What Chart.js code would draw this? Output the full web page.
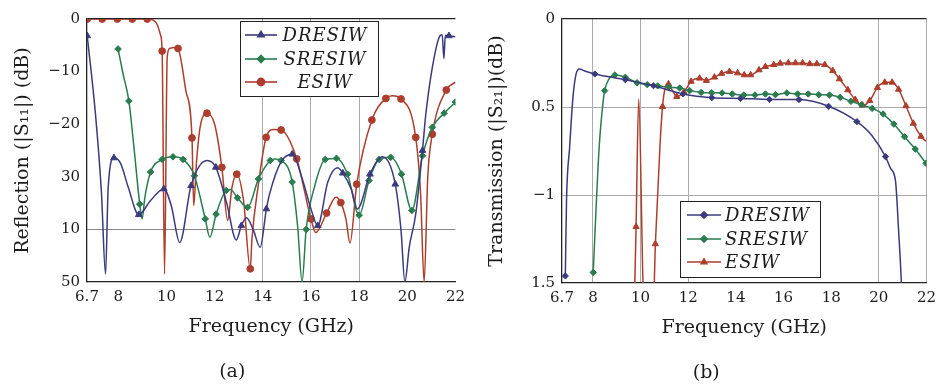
<!DOCTYPE html>
<html>
<head>
<meta charset="utf-8">
<script src="https://cdn.jsdelivr.net/npm/chart.js@4.4.1/dist/chart.umd.min.js"></script>
<style>
  body { margin: 0; background: #fff; }
  #wrap { position: relative; width: 942px; height: 385px; }
  canvas { position: absolute; top: 0; }
</style>
</head>
<body>
<div id="wrap">
  <canvas id="left" width="471" height="385" style="left:0"></canvas>
  <canvas id="right" width="471" height="385" style="left:471px"></canvas>
</div>
<script>
// axis ticks (labels copied as printed in the figure)
const freqTicks = [6.7, 8, 10, 12, 14, 16, 18, 20, 22];
const s11Ticks = [0, -10, -20, -30, -40, -50];
const s11TickLabels = ['0', '\u221210', '\u221220', '30', '10', '50'];
const s21Ticks = [0, -0.5, -1, -1.5];
const s21TickLabels = ['0', '0.5', '\u22121', '1.5'];

// (a) reflection |S11| in dB
const s11DresiwF  = [6.71, 7.05, 7.3, 7.47, 7.58, 7.82, 8.1, 8.4, 8.85, 9.34, 9.89, 10.2, 10.55, 11.02, 11.68, 12.05, 12.5, 12.9, 13.11, 13.32, 13.6, 13.89, 14.15, 14.28, 14.75, 15.22, 15.66, 16.0, 16.28, 16.7, 17.11, 17.32, 17.67, 17.93, 18.45, 18.97, 19.5, 19.74, 19.9, 20.08, 20.35, 20.63, 20.77, 21.04, 21.32, 21.45, 21.52, 21.58, 21.73, 22];
const s11DresiwDb = [-3.2, -18, -33, -48.5, -32, -26.4, -27.5, -31.8, -37.2, -34.5, -32.3, -35.5, -42.5, -31.7, -26.9, -28.2, -35, -42, -39.3, -37.8, -40, -43.4, -36.1, -33.3, -27.2, -25.7, -30.7, -36.1, -39.3, -31, -28.3, -29.3, -32.3, -36.1, -29.5, -26.2, -31.4, -40.2, -50, -43.4, -37.1, -25, -18.1, -9.2, -3.5, -3.0, -7.5, -3.1, -3.2, -3.4];

const s11SresiwF  = [7.99, 8.2, 8.44, 8.65, 8.89, 8.99, 9.1, 9.34, 9.82, 10.27, 10.69, 11.16, 11.61, 11.8, 12.06, 12.48, 12.65, 12.95, 13.37, 13.82, 14.31, 14.5, 14.76, 15.22, 15.45, 15.63, 15.8, 16.14, 16.59, 17.06, 17.52, 18.0, 18.41, 18.83, 19.31, 19.76, 20.19, 20.63, 21.04, 21.53, 22];
const s11SresiwDb = [-5.7, -10.5, -15.6, -24.4, -35.2, -38.0, -34, -29.1, -26.7, -26.2, -26.7, -29.8, -38.0, -41.5, -37.1, -32.6, -32.4, -34.0, -35.8, -30.4, -26.9, -26.6, -26.9, -31.0, -39.6, -50, -40, -32.0, -26.7, -26.5, -29.5, -37.3, -30.7, -26.7, -26.3, -29.5, -36.4, -26.0, -20.6, -17.9, -15.8];

const s11EsiwF  = [6.71, 7.33, 7.96, 8.58, 9.2, 9.45, 9.61, 9.75, 9.82, 9.92, 10.03, 10.13, 10.37, 10.48, 10.8, 11.06, 11.13, 11.25, 11.4, 11.68, 12.0, 12.3, 12.54, 12.72, 12.92, 13.2, 13.48, 13.55, 13.8, 14.14, 14.45, 14.76, 15.41, 16.0, 16.2, 16.65, 17.04, 17.24, 17.45, 17.62, 17.9, 18.53, 19.11, 19.38, 19.74, 20.35, 20.55, 20.7, 20.85, 21.04, 21.62, 22];
const s11EsiwDb = [0, 0, 0, 0, 0, -0.2, -1, -3, -6.1, -48.5, -7.3, -5.6, -5.4, -5.6, -13.5, -22.6, -35.5, -27, -20.5, -17.9, -20, -28.2, -38.3, -32, -29.5, -34.5, -47.5, -41.8, -32, -22.5, -21, -21.1, -26.6, -38.0, -40.6, -36.9, -33.9, -34.9, -38, -42.6, -31.4, -19.2, -15.1, -14.6, -15.2, -22.5, -33, -50, -30, -21.9, -13.5, -12.0];

// (b) transmission |S21| in dB
const s21DresiwF  = [6.84, 6.89, 7.02, 7.16, 7.29, 7.43, 7.65, 8.08, 9.36, 10.54, 11.78, 12.99, 14.19, 15.41, 16.65, 17.89, 19.08, 19.7, 20.28, 20.5, 20.7, 20.83, 20.94, 20.97];
const s21DresiwDb = [-1.46, -1.03, -0.73, -0.445, -0.313, -0.284, -0.295, -0.3125, -0.345, -0.379, -0.426, -0.447, -0.451, -0.457, -0.458, -0.496, -0.583, -0.66, -0.782, -0.85, -0.92, -1.2, -1.48, -1.6];

const s21SresiwF  = [8.01, 8.12, 8.26, 8.4, 8.49, 8.67, 8.92, 9.36, 9.85, 10.28, 10.72, 11.18, 11.64, 12.06, 12.54, 12.98, 13.42, 13.85, 14.33, 14.8, 15.24, 15.66, 16.14, 16.59, 17.04, 17.48, 17.93, 18.38, 18.83, 19.27, 19.72, 20.18, 20.63, 21.08, 21.53, 21.98];
const s21SresiwDb = [-1.44, -1.108, -0.729, -0.502, -0.407, -0.341, -0.318, -0.331, -0.362, -0.373, -0.38, -0.387, -0.392, -0.407, -0.417, -0.419, -0.42, -0.426, -0.432, -0.432, -0.426, -0.43, -0.42, -0.426, -0.426, -0.43, -0.432, -0.445, -0.468, -0.487, -0.508, -0.54, -0.597, -0.669, -0.739, -0.82];

const s21EsiwF  = [9.74, 9.81, 9.92, 10.1, 10.13, 10.54, 10.62, 10.81, 10.92, 11.02, 11.17, 11.35, 11.52, 11.82, 12.12, 12.48, 12.76, 13.1, 13.4, 13.73, 14.07, 14.35, 14.62, 14.97, 15.24, 15.59, 15.86, 16.2, 16.5, 16.8, 17.1, 17.4, 17.73, 18.07, 18.35, 18.7, 19.01, 19.32, 19.62, 19.94, 20.25, 20.56, 20.83, 21.14, 21.45, 21.77, 21.98];
const s21EsiwDb = [-1.6, -1.18, -0.455, -1.5, -1.6, -1.6, -1.278, -0.729, -0.498, -0.398, -0.369, -0.41, -0.441, -0.415, -0.355, -0.337, -0.35, -0.331, -0.31, -0.299, -0.307, -0.318, -0.318, -0.29, -0.271, -0.26, -0.252, -0.25, -0.25, -0.25, -0.255, -0.255, -0.26, -0.294, -0.341, -0.403, -0.458, -0.49, -0.464, -0.39, -0.36, -0.36, -0.4, -0.494, -0.593, -0.667, -0.695];

const NAVY = '#3b3a7e';
const GREEN = '#2a7c4e';
const RED = '#ad3d2c';
const GRID = '#ababab';
const INK = '#1c1c1c';
const FONT = '"DejaVu Serif", "Liberation Serif", serif';

// markers sit on every sample that is at least `step` GHz from the previous marker
function markerMask(freqs, dbs, step, yMin) {
    let last = -Infinity;
    return freqs.map((f, i) => {
        if (dbs[i] > yMin && f - last >= step - 1e-9) { last = f; return true; }
        return false;
    });
}

// framed legend drawn inside the plot, like the figure
const boxLegend = {
    id: 'boxLegend',
    afterDatasetsDraw(chart, args, o) {
        const ctx = chart.ctx;
        ctx.save();
        ctx.fillStyle = '#fff';
        ctx.fillRect(o.x, o.y, o.w, o.h);
        ctx.strokeStyle = '#222';
        ctx.lineWidth = 1;
        ctx.strokeRect(o.x + 0.5, o.y + 0.5, o.w, o.h);
        chart.data.datasets.forEach((ds, i) => {
            const y = o.rows[i];
            ctx.strokeStyle = ds.borderColor;
            ctx.lineWidth = 1.6;
            ctx.beginPath();
            ctx.moveTo(o.lineX0, y);
            ctx.lineTo(o.lineX1, y);
            ctx.stroke();
            ctx.fillStyle = ds.borderColor;
            Chart.helpers.drawPoint(ctx, {pointStyle: ds.pointStyle, radius: o.radius, rotation: 0, borderWidth: 1},
                (o.lineX0 + o.lineX1) / 2, y);
            ctx.fillStyle = INK;
            ctx.font = 'italic 18px ' + FONT;
            ctx.letterSpacing = '1px';
            ctx.textAlign = o.textAlign;
            ctx.textBaseline = 'middle';
            ctx.fillText(ds.label, o.textX, y + 1);
        });
        ctx.restore();
    }
};

// axis titles and sub-figure caption
const panelText = {
    id: 'panelText',
    afterDraw(chart, args, o) {
        const {ctx, chartArea: a} = chart;
        const cx = (a.left + a.right) / 2;
        ctx.save();
        ctx.fillStyle = INK;
        ctx.font = '19px ' + FONT;
        ctx.textAlign = 'center';
        ctx.textBaseline = 'middle';
        ctx.fillText('Frequency (GHz)', cx, a.bottom + 45);
        ctx.fillText(o.caption, cx + o.captionShift, a.bottom + 90);
        ctx.translate(o.yTitleX, (a.top + a.bottom) / 2);
        ctx.rotate(-Math.PI / 2);
        ctx.fillText(o.yTitle, 0, 0);
        ctx.restore();
    }
};

function makePanel(id, p) {
    const datasets = p.series.map(s => {
        const mask = markerMask(s.f, s.db, s.step, p.yMin);
        return {
            label: s.name,
            data: s.f.map((f, i) => ({x: f, y: s.db[i]})),
            borderColor: s.color,
            backgroundColor: s.color,
            pointBackgroundColor: s.color,
            pointBorderColor: s.color,
            borderWidth: 1.5,
            pointStyle: s.marker,
            pointRadius: c => mask[c.dataIndex] ? s.radius : 0,
            pointHoverRadius: 0,
            pointBorderWidth: 1,
            cubicInterpolationMode: 'monotone',
            fill: false
        };
    });

    return new Chart(document.getElementById(id), {
        type: 'line',
        data: {datasets: datasets},
        options: {
            responsive: false,
            animation: false,
            devicePixelRatio: 1,
            layout: {padding: {top: 19, right: p.padRight, left: 0, bottom: 0}},
            events: [],
            plugins: {
                legend: {display: false},
                tooltip: {enabled: false},
                boxLegend: p.legend,
                panelText: p.text
            },
            scales: {
                x: {
                    type: 'linear',
                    min: 6.7,
                    max: 22,
                    afterBuildTicks: s => { s.ticks = freqTicks.map(v => ({value: v})); },
                    afterFit: s => { s.height = p.xHeight; },
                    ticks: {
                        autoSkip: false, maxRotation: 0, padding: 6, color: INK,
                        font: {family: FONT, size: 15},
                        callback: v => String(v)
                    },
                    grid: {
                        drawTicks: false,
                        lineWidth: 1,
                        color: c => (c.tick && p.xGrid.includes(c.tick.value)) ? GRID : 'rgba(0,0,0,0)'
                    },
                    border: {color: '#222', width: 1.3}
                },
                y: {
                    type: 'linear',
                    min: p.yMin,
                    max: 0,
                    afterBuildTicks: s => { s.ticks = p.yTicks.map(v => ({value: v})); },
                    afterFit: s => { s.width = p.yWidth; },
                    ticks: {
                        autoSkip: false, padding: 7, color: INK,
                        font: {family: FONT, size: 15},
                        callback: (v, i) => p.yLabels[i]
                    },
                    grid: {
                        drawTicks: false,
                        lineWidth: c => (c.tick && c.tick.value === 0) ? 1.3 : 1,
                        color: c => {
                            if (!c.tick) return 'rgba(0,0,0,0)';
                            if (c.tick.value === 0) return '#222';
                            return p.yGrid.includes(c.tick.value) ? p.yGridColor : 'rgba(0,0,0,0)';
                        }
                    },
                    border: {color: '#222', width: 1.3}
                }
            }
        },
        plugins: [boxLegend, panelText]
    });
}

makePanel('left', {
    yMin: -50,
    yTicks: s11Ticks,
    yLabels: s11TickLabels,
    xGrid: [14, 16, 18],
    yGrid: [-40],
    yGridColor: '#8f8585',
    yWidth: 87,
    xHeight: 103,
    padRight: 14,
    series: [
        {name: 'DRESIW', f: s11DresiwF, db: s11DresiwDb, color: NAVY, marker: 'triangle', radius: 3.8, step: 1.0},
        {name: 'SRESIW', f: s11SresiwF, db: s11SresiwDb, color: GREEN, marker: 'rectRot', radius: 3.3, step: 0.4},
        {name: 'ESIW', f: s11EsiwF, db: s11EsiwDb, color: RED, marker: 'circle', radius: 3.4, step: 0.56}
    ],
    legend: {x: 240, y: 21, w: 138, h: 75, rows: [35, 59, 82], lineX0: 245, lineX1: 277,
             radius: 3.6, textX: 325, textAlign: 'center'},
    text: {yTitle: 'Reflection (|S\u2081\u2081|) (dB)', yTitleX: 23, caption: '(a)', captionShift: -39}
});

makePanel('right', {
    yMin: -1.5,
    yTicks: s21Ticks,
    yLabels: s21TickLabels,
    xGrid: [8, 10, 12, 20, 22],
    yGrid: [-0.5, -1],
    yGridColor: GRID,
    yWidth: 91,
    xHeight: 102,
    padRight: 10,
    series: [
        {name: 'DRESIW', f: s21DresiwF, db: s21DresiwDb, color: NAVY, marker: 'rectRot', radius: 3.1, step: 1.15},
        {name: 'SRESIW', f: s21SresiwF, db: s21SresiwDb, color: GREEN, marker: 'rectRot', radius: 3.2, step: 0.4},
        {name: 'ESIW', f: s21EsiwF, db: s21EsiwDb, color: RED, marker: 'triangle', radius: 3.6, step: 0.25}
    ],
    legend: {x: 209, y: 201, w: 140, h: 76, rows: [215, 239, 262], lineX0: 216, lineX1: 250,
             radius: 3.2, textX: 254, textAlign: 'left'},
    text: {yTitle: 'Transmission (|S\u2082\u2081|)(dB)', yTitleX: 26, caption: '(b)', captionShift: -38}
});
</script>
</body>
</html>
